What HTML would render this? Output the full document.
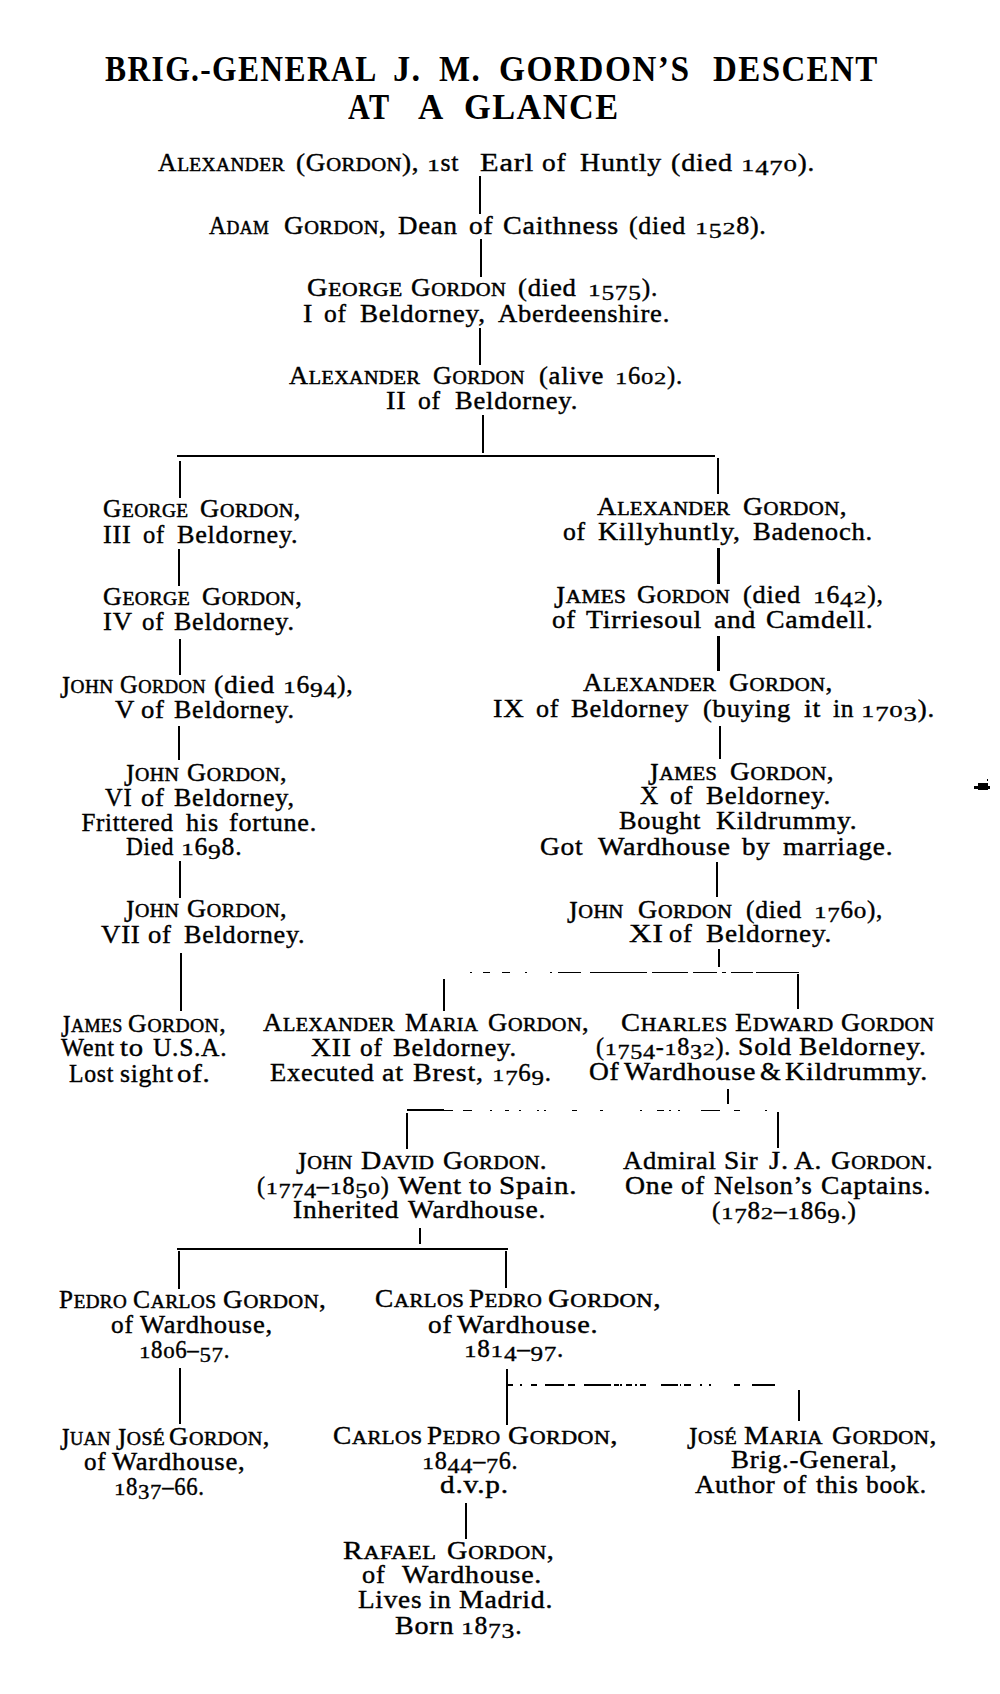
<!DOCTYPE html><html><head><meta charset="utf-8"><style>

html,body{margin:0;padding:0;background:#fff;}
body{width:1000px;height:1694px;position:relative;overflow:hidden;font-family:"Liberation Serif",serif;color:#000;}
.t{position:absolute;white-space:nowrap;transform-origin:0 0;line-height:1;}
.b{font-size:25px;letter-spacing:0.7px;word-spacing:4px;-webkit-text-stroke:0.4px #000;}
.tt{font-size:35px;font-weight:bold;letter-spacing:1.5px;word-spacing:2px;}
.s{font-size:76%;letter-spacing:0.4px;-webkit-text-stroke:0.5px #000;}
.j{display:inline-block;transform:scaleY(1.24);transform-origin:50% 0;}
.ox{display:inline-block;transform:scale(1,0.64);transform-origin:50% 84%;}
.od{display:inline-block;transform:translateY(0.17em) scale(1,0.84);transform-origin:50% 84%;}
.r{position:absolute;background:#000;}

</style></head><body>
<div class="t tt" style="left:105.10px;top:51.69px;transform:scaleX(0.9010)">BRIG.-GENERAL</div>
<div class="t tt" style="left:392.54px;top:51.69px;transform:scaleX(0.9792)">J.</div>
<div class="t tt" style="left:438.56px;top:51.69px;transform:scaleX(0.9390)">M.</div>
<div class="t tt" style="left:499.09px;top:51.69px;transform:scaleX(0.9541)">GORDON’S</div>
<div class="t tt" style="left:713.06px;top:51.69px;transform:scaleX(0.9422)">DESCENT</div>
<div class="t tt" style="left:348.40px;top:89.69px;transform:scaleX(0.8638)">AT</div>
<div class="t tt" style="left:418.00px;top:89.69px;transform:scaleX(1.0000)">A</div>
<div class="t tt" style="left:464.04px;top:89.69px;transform:scaleX(0.9805)">GLANCE</div>
<div class="t b" style="left:157.70px;top:150.06px;transform:scaleX(1.0194)">A<span class="s">LEXANDER</span></div>
<div class="t b" style="left:296.31px;top:150.06px;transform:scaleX(1.0882)">(G<span class="s">ORDON</span>),</div>
<div class="t b" style="left:427.09px;top:150.06px;transform:scaleX(1.0312)"><span class="ox">1</span>st</div>
<div class="t b" style="left:480.05px;top:150.06px;transform:scaleX(1.2157)">Earl</div>
<div class="t b" style="left:541.50px;top:150.06px;transform:scaleX(1.0952)">of</div>
<div class="t b" style="left:580.09px;top:150.06px;transform:scaleX(1.1139)">Huntly</div>
<div class="t b" style="left:671.27px;top:150.06px;transform:scaleX(1.1283)">(died</div>
<div class="t b" style="left:741.05px;top:150.06px;transform:scaleX(1.0738)"><span class="ox">1</span><span class="od">4</span><span class="od">7</span><span class="ox">0</span>).</div>
<div class="t b" style="left:209.20px;top:213.06px;transform:scaleX(0.9375)">A<span class="s">DAM</span></div>
<div class="t b" style="left:283.62px;top:213.06px;transform:scaleX(1.0750)">G<span class="s">ORDON</span>,</div>
<div class="t b" style="left:398.02px;top:213.06px;transform:scaleX(1.0759)">Dean</div>
<div class="t b" style="left:469.40px;top:213.06px;transform:scaleX(1.0952)">of</div>
<div class="t b" style="left:503.48px;top:213.06px;transform:scaleX(1.1208)">Caithness</div>
<div class="t b" style="left:628.66px;top:213.06px;transform:scaleX(1.0377)">(died</div>
<div class="t b" style="left:695.12px;top:213.06px;transform:scaleX(1.0400)"><span class="ox">1</span><span class="od">5</span><span class="ox">2</span>8).</div>
<div class="t b" style="left:307.26px;top:275.06px;transform:scaleX(1.1390)">G<span class="s">EORGE</span></div>
<div class="t b" style="left:411.22px;top:275.06px;transform:scaleX(1.0793)">G<span class="s">ORDON</span></div>
<div class="t b" style="left:517.83px;top:275.06px;transform:scaleX(1.0679)">(died</div>
<div class="t b" style="left:588.27px;top:275.06px;transform:scaleX(1.0169)"><span class="ox">1</span><span class="od">5</span><span class="od">7</span><span class="od">5</span>).</div>
<div class="t b" style="left:302.67px;top:301.06px;transform:scaleX(1.1278)">I</div>
<div class="t b" style="left:323.77px;top:301.06px;transform:scaleX(1.0204)">of</div>
<div class="t b" style="left:359.91px;top:301.06px;transform:scaleX(1.0858)">Beldorney,</div>
<div class="t b" style="left:497.90px;top:301.06px;transform:scaleX(1.0631)">Aberdeenshire.</div>
<div class="t b" style="left:288.80px;top:363.06px;transform:scaleX(1.0556)">A<span class="s">LEXANDER</span></div>
<div class="t b" style="left:433.36px;top:363.06px;transform:scaleX(1.0414)">G<span class="s">ORDON</span></div>
<div class="t b" style="left:538.83px;top:363.06px;transform:scaleX(1.0661)">(alive</div>
<div class="t b" style="left:614.53px;top:363.06px;transform:scaleX(0.9862)"><span class="ox">1</span>6<span class="ox">0</span><span class="ox">2</span>).</div>
<div class="t b" style="left:386.29px;top:388.06px;transform:scaleX(1.1347)">II</div>
<div class="t b" style="left:418.39px;top:388.06px;transform:scaleX(1.0266)">of</div>
<div class="t b" style="left:455.44px;top:388.06px;transform:scaleX(1.0628)">Beldorney.</div>
<div class="t b" style="left:102.78px;top:496.06px;transform:scaleX(1.0159)">G<span class="s">EORGE</span></div>
<div class="t b" style="left:199.74px;top:496.06px;transform:scaleX(1.0620)">G<span class="s">ORDON</span>,</div>
<div class="t b" style="left:103.35px;top:522.06px;transform:scaleX(1.0520)">III</div>
<div class="t b" style="left:143.37px;top:522.06px;transform:scaleX(0.9805)">of</div>
<div class="t b" style="left:177.45px;top:522.06px;transform:scaleX(1.0487)">Beldorney.</div>
<div class="t b" style="left:102.76px;top:583.56px;transform:scaleX(1.0354)">G<span class="s">EORGE</span></div>
<div class="t b" style="left:201.84px;top:583.56px;transform:scaleX(1.0554)">G<span class="s">ORDON</span>,</div>
<div class="t b" style="left:103.33px;top:609.06px;transform:scaleX(1.0692)">IV</div>
<div class="t b" style="left:142.40px;top:609.06px;transform:scaleX(0.9952)">of</div>
<div class="t b" style="left:174.46px;top:609.06px;transform:scaleX(1.0425)">Beldorney.</div>
<div class="t b" style="left:59.60px;top:672.06px;transform:scaleX(1.0154)"><span class="j">J</span><span class="s">OHN</span></div>
<div class="t b" style="left:119.63px;top:672.06px;transform:scaleX(0.9747)">G<span class="s">ORDON</span></div>
<div class="t b" style="left:213.99px;top:672.06px;transform:scaleX(1.1113)">(died</div>
<div class="t b" style="left:283.15px;top:672.06px;transform:scaleX(1.0246)"><span class="ox">1</span>6<span class="od">9</span><span class="od">4</span>),</div>
<div class="t b" style="left:114.50px;top:697.06px;transform:scaleX(1.0722)">V</div>
<div class="t b" style="left:140.83px;top:697.06px;transform:scaleX(1.0667)">of</div>
<div class="t b" style="left:174.46px;top:697.06px;transform:scaleX(1.0425)">Beldorney.</div>
<div class="t b" style="left:123.60px;top:760.06px;transform:scaleX(1.0462)"><span class="j">J</span><span class="s">OHN</span></div>
<div class="t b" style="left:186.65px;top:760.06px;transform:scaleX(1.0543)">G<span class="s">ORDON</span>,</div>
<div class="t b" style="left:105.22px;top:785.06px;transform:scaleX(0.9833)">VI</div>
<div class="t b" style="left:140.83px;top:785.06px;transform:scaleX(1.0667)">of</div>
<div class="t b" style="left:174.46px;top:785.06px;transform:scaleX(1.0425)">Beldorney,</div>
<div class="t b" style="left:81.40px;top:809.56px;transform:scaleX(1.0000)">Frittered</div>
<div class="t b" style="left:186.10px;top:809.56px;transform:scaleX(1.0500)">his</div>
<div class="t b" style="left:229.35px;top:809.56px;transform:scaleX(1.0469)">fortune.</div>
<div class="t b" style="left:125.77px;top:834.06px;transform:scaleX(0.9340)">Died</div>
<div class="t b" style="left:181.05px;top:834.06px;transform:scaleX(1.0250)"><span class="ox">1</span>6<span class="od">9</span>8.</div>
<div class="t b" style="left:123.60px;top:895.56px;transform:scaleX(1.0462)"><span class="j">J</span><span class="s">OHN</span></div>
<div class="t b" style="left:186.65px;top:895.56px;transform:scaleX(1.0543)">G<span class="s">ORDON</span>,</div>
<div class="t b" style="left:100.70px;top:921.56px;transform:scaleX(1.0743)">VII</div>
<div class="t b" style="left:148.43px;top:921.56px;transform:scaleX(1.0667)">of</div>
<div class="t b" style="left:183.55px;top:921.56px;transform:scaleX(1.0478)">Beldorney.</div>
<div class="t b" style="left:61.00px;top:1011.06px;transform:scaleX(0.9524)"><span class="j">J</span><span class="s">AMES</span></div>
<div class="t b" style="left:127.97px;top:1011.06px;transform:scaleX(1.0326)">G<span class="s">ORDON</span>,</div>
<div class="t b" style="left:61.40px;top:1035.06px;transform:scaleX(0.9763)">Went</div>
<div class="t b" style="left:119.62px;top:1035.06px;transform:scaleX(1.1467)">to</div>
<div class="t b" style="left:152.60px;top:1035.06px;transform:scaleX(1.0183)">U.S.A.</div>
<div class="t b" style="left:69.05px;top:1061.06px;transform:scaleX(0.9511)">Lost</div>
<div class="t b" style="left:120.27px;top:1061.06px;transform:scaleX(1.0260)">sight</div>
<div class="t b" style="left:177.37px;top:1061.06px;transform:scaleX(1.1524)">of.</div>
<div class="t b" style="left:596.70px;top:494.06px;transform:scaleX(1.0726)">A<span class="s">LEXANDER</span></div>
<div class="t b" style="left:742.80px;top:494.06px;transform:scaleX(1.0957)">G<span class="s">ORDON</span>,</div>
<div class="t b" style="left:563.37px;top:519.06px;transform:scaleX(1.0286)">of</div>
<div class="t b" style="left:597.79px;top:519.06px;transform:scaleX(1.1128)">Killyhuntly,</div>
<div class="t b" style="left:753.03px;top:519.06px;transform:scaleX(1.0661)">Badenoch.</div>
<div class="t b" style="left:554.00px;top:581.56px;transform:scaleX(1.1159)"><span class="j">J</span><span class="s">AMES</span></div>
<div class="t b" style="left:636.65px;top:581.56px;transform:scaleX(1.0540)">G<span class="s">ORDON</span></div>
<div class="t b" style="left:742.65px;top:581.56px;transform:scaleX(1.0547)">(died</div>
<div class="t b" style="left:812.75px;top:581.56px;transform:scaleX(1.0262)"><span class="ox">1</span>6<span class="od">4</span><span class="ox">2</span>),</div>
<div class="t b" style="left:552.02px;top:607.36px;transform:scaleX(1.0762)">of</div>
<div class="t b" style="left:585.50px;top:607.36px;transform:scaleX(1.1087)">Tirriesoul</div>
<div class="t b" style="left:713.80px;top:607.36px;transform:scaleX(1.1028)">and</div>
<div class="t b" style="left:765.99px;top:607.36px;transform:scaleX(1.1140)">Camdell.</div>
<div class="t b" style="left:583.00px;top:669.56px;transform:scaleX(1.0726)">A<span class="s">LEXANDER</span></div>
<div class="t b" style="left:728.91px;top:669.56px;transform:scaleX(1.0924)">G<span class="s">ORDON</span>,</div>
<div class="t b" style="left:493.26px;top:695.56px;transform:scaleX(1.1385)">IX</div>
<div class="t b" style="left:536.26px;top:695.56px;transform:scaleX(1.0429)">of</div>
<div class="t b" style="left:571.43px;top:695.56px;transform:scaleX(1.0688)">Beldorney</div>
<div class="t b" style="left:702.54px;top:695.56px;transform:scaleX(1.0642)">(buying</div>
<div class="t b" style="left:803.64px;top:695.56px;transform:scaleX(1.1279)">it</div>
<div class="t b" style="left:833.10px;top:695.56px;transform:scaleX(1.0205)">in</div>
<div class="t b" style="left:861.05px;top:695.56px;transform:scaleX(1.0738)"><span class="ox">1</span><span class="od">7</span><span class="ox">0</span><span class="od">3</span>).</div>
<div class="t b" style="left:648.40px;top:759.06px;transform:scaleX(1.0698)"><span class="j">J</span><span class="s">AMES</span></div>
<div class="t b" style="left:729.80px;top:759.06px;transform:scaleX(1.0957)">G<span class="s">ORDON</span>,</div>
<div class="t b" style="left:640.25px;top:783.06px;transform:scaleX(1.0106)">X</div>
<div class="t b" style="left:669.87px;top:783.06px;transform:scaleX(1.0333)">of</div>
<div class="t b" style="left:705.82px;top:783.06px;transform:scaleX(1.0788)">Beldorney.</div>
<div class="t b" style="left:619.44px;top:808.06px;transform:scaleX(1.0553)">Bought</div>
<div class="t b" style="left:715.60px;top:808.06px;transform:scaleX(1.1024)">Kildrummy.</div>
<div class="t b" style="left:540.20px;top:833.56px;transform:scaleX(1.0974)">Got</div>
<div class="t b" style="left:598.40px;top:833.56px;transform:scaleX(1.1239)">Wardhouse</div>
<div class="t b" style="left:742.00px;top:833.56px;transform:scaleX(1.0769)">by</div>
<div class="t b" style="left:783.00px;top:833.56px;transform:scaleX(1.0869)">marriage.</div>
<div class="t b" style="left:567.20px;top:897.06px;transform:scaleX(1.0750)"><span class="j">J</span><span class="s">OHN</span></div>
<div class="t b" style="left:638.13px;top:897.06px;transform:scaleX(1.0667)">G<span class="s">ORDON</span></div>
<div class="t b" style="left:745.88px;top:897.06px;transform:scaleX(1.0208)">(died</div>
<div class="t b" style="left:814.19px;top:897.06px;transform:scaleX(1.0046)"><span class="ox">1</span><span class="od">7</span>6<span class="ox">0</span>),</div>
<div class="t b" style="left:628.88px;top:921.06px;transform:scaleX(1.2474)">XI</div>
<div class="t b" style="left:669.38px;top:921.06px;transform:scaleX(1.0581)">of</div>
<div class="t b" style="left:705.61px;top:921.06px;transform:scaleX(1.0894)">Beldorney.</div>
<div class="t b" style="left:263.10px;top:1010.06px;transform:scaleX(1.0605)">A<span class="s">LEXANDER</span></div>
<div class="t b" style="left:405.17px;top:1010.06px;transform:scaleX(1.0329)">M<span class="s">ARIA</span></div>
<div class="t b" style="left:488.14px;top:1010.06px;transform:scaleX(1.0630)">G<span class="s">ORDON</span>,</div>
<div class="t b" style="left:310.80px;top:1035.06px;transform:scaleX(1.1086)">XII</div>
<div class="t b" style="left:359.93px;top:1035.06px;transform:scaleX(1.0146)">of</div>
<div class="t b" style="left:392.53px;top:1035.06px;transform:scaleX(1.0699)">Beldorney.</div>
<div class="t b" style="left:270.14px;top:1060.06px;transform:scaleX(1.0588)">Executed</div>
<div class="t b" style="left:381.99px;top:1060.06px;transform:scaleX(1.1209)">at</div>
<div class="t b" style="left:412.88px;top:1060.06px;transform:scaleX(1.1200)">Brest,</div>
<div class="t b" style="left:491.70px;top:1060.06px;transform:scaleX(0.9982)"><span class="ox">1</span><span class="od">7</span>6<span class="od">9</span>.</div>
<div class="t b" style="left:620.76px;top:1010.06px;transform:scaleX(1.1385)">C<span class="s">HARLES</span></div>
<div class="t b" style="left:735.07px;top:1010.06px;transform:scaleX(1.1256)">E<span class="s">DWARD</span></div>
<div class="t b" style="left:840.84px;top:1010.06px;transform:scaleX(1.0586)">G<span class="s">ORDON</span></div>
<div class="t b" style="left:595.73px;top:1034.06px;transform:scaleX(0.9657)">(<span class="ox">1</span><span class="od">7</span><span class="od">5</span><span class="od">4</span>-<span class="ox">1</span>8<span class="od">3</span><span class="ox">2</span>).</div>
<div class="t b" style="left:737.78px;top:1034.06px;transform:scaleX(1.1087)">Sold</div>
<div class="t b" style="left:799.40px;top:1034.06px;transform:scaleX(1.1018)">Beldorney.</div>
<div class="t b" style="left:588.80px;top:1059.06px;transform:scaleX(1.0981)">Of</div>
<div class="t b" style="left:623.95px;top:1059.06px;transform:scaleX(1.1184)">Wardhouse</div>
<div class="t b" style="left:760.43px;top:1059.06px;transform:scaleX(1.0667)">&amp;</div>
<div class="t b" style="left:785.09px;top:1059.06px;transform:scaleX(1.1144)">Kildrummy.</div>
<div class="t b" style="left:295.90px;top:1148.06px;transform:scaleX(1.0750)"><span class="j">J</span><span class="s">OHN</span></div>
<div class="t b" style="left:361.38px;top:1148.06px;transform:scaleX(1.1234)">D<span class="s">AVID</span></div>
<div class="t b" style="left:443.10px;top:1148.06px;transform:scaleX(1.0967)">G<span class="s">ORDON</span>.</div>
<div class="t b" style="left:257.13px;top:1173.06px;transform:scaleX(0.9679)">(<span class="ox">1</span><span class="od">7</span><span class="od">7</span><span class="od">4</span>–<span class="ox">1</span>8<span class="od">5</span><span class="ox">0</span>)</div>
<div class="t b" style="left:397.60px;top:1173.06px;transform:scaleX(1.1648)">Went</div>
<div class="t b" style="left:468.56px;top:1173.06px;transform:scaleX(1.1244)">to</div>
<div class="t b" style="left:499.48px;top:1173.06px;transform:scaleX(1.1619)">Spain.</div>
<div class="t b" style="left:293.00px;top:1197.06px;transform:scaleX(1.1000)">Inherited</div>
<div class="t b" style="left:408.40px;top:1197.06px;transform:scaleX(1.1041)">Wardhouse.</div>
<div class="t b" style="left:622.70px;top:1148.06px;transform:scaleX(1.0609)">Admiral</div>
<div class="t b" style="left:723.81px;top:1148.06px;transform:scaleX(1.0966)">Sir</div>
<div class="t b" style="left:769.23px;top:1148.06px;transform:scaleX(1.1431)">J.</div>
<div class="t b" style="left:794.30px;top:1148.06px;transform:scaleX(1.0958)">A.</div>
<div class="t b" style="left:830.62px;top:1148.06px;transform:scaleX(1.0750)">G<span class="s">ORDON</span>.</div>
<div class="t b" style="left:624.89px;top:1173.06px;transform:scaleX(1.1119)">One</div>
<div class="t b" style="left:680.52px;top:1173.06px;transform:scaleX(1.0762)">of</div>
<div class="t b" style="left:713.84px;top:1173.06px;transform:scaleX(1.0593)">Nelson’s</div>
<div class="t b" style="left:820.90px;top:1173.06px;transform:scaleX(1.1021)">Captains.</div>
<div class="t b" style="left:712.00px;top:1197.56px;transform:scaleX(1.0043)">(<span class="ox">1</span><span class="od">7</span>8<span class="ox">2</span>–<span class="ox">1</span>86<span class="od">9</span>.)</div>
<div class="t b" style="left:59.20px;top:1287.06px;transform:scaleX(1.0030)">P<span class="s">EDRO</span></div>
<div class="t b" style="left:133.08px;top:1287.06px;transform:scaleX(1.0228)">C<span class="s">ARLOS</span></div>
<div class="t b" style="left:222.91px;top:1287.06px;transform:scaleX(1.0870)">G<span class="s">ORDON</span>,</div>
<div class="t b" style="left:111.39px;top:1312.06px;transform:scaleX(1.0143)">of</div>
<div class="t b" style="left:139.90px;top:1312.06px;transform:scaleX(1.0618)">Wardhouse,</div>
<div class="t b" style="left:139.17px;top:1337.06px;transform:scaleX(0.9158)"><span class="ox">1</span>8<span class="ox">0</span>6–<span class="od">5</span><span class="od">7</span>.</div>
<div class="t b" style="left:374.61px;top:1286.36px;transform:scaleX(1.0937)">C<span class="s">ARLOS</span></div>
<div class="t b" style="left:469.12px;top:1286.36px;transform:scaleX(1.0788)">P<span class="s">EDRO</span></div>
<div class="t b" style="left:548.31px;top:1286.36px;transform:scaleX(1.1902)">G<span class="s">ORDON</span>,</div>
<div class="t b" style="left:427.91px;top:1311.56px;transform:scaleX(1.0929)">of</div>
<div class="t b" style="left:457.45px;top:1311.56px;transform:scaleX(1.1305)">Wardhouse.</div>
<div class="t b" style="left:463.99px;top:1336.36px;transform:scaleX(1.0074)"><span class="ox">1</span>8<span class="ox">1</span><span class="od">4</span>–<span class="od">9</span><span class="od">7</span>.</div>
<div class="t b" style="left:59.80px;top:1424.06px;transform:scaleX(0.9615)"><span class="j">J</span><span class="s">UAN</span></div>
<div class="t b" style="left:115.80px;top:1424.06px;transform:scaleX(1.0340)"><span class="j">J</span><span class="s">OSÉ</span></div>
<div class="t b" style="left:169.34px;top:1424.06px;transform:scaleX(1.0609)">G<span class="s">ORDON</span>,</div>
<div class="t b" style="left:83.78px;top:1449.06px;transform:scaleX(1.0015)">of</div>
<div class="t b" style="left:111.60px;top:1449.06px;transform:scaleX(1.0667)">Wardhouse,</div>
<div class="t b" style="left:114.18px;top:1474.06px;transform:scaleX(0.9116)"><span class="ox">1</span>8<span class="od">3</span><span class="od">7</span>–66.</div>
<div class="t b" style="left:332.91px;top:1423.26px;transform:scaleX(1.0949)">C<span class="s">ARLOS</span></div>
<div class="t b" style="left:427.42px;top:1423.26px;transform:scaleX(1.0833)">P<span class="s">EDRO</span></div>
<div class="t b" style="left:508.34px;top:1423.26px;transform:scaleX(1.1576)">G<span class="s">ORDON</span>,</div>
<div class="t b" style="left:422.06px;top:1448.26px;transform:scaleX(0.9684)"><span class="ox">1</span>8<span class="od">4</span><span class="od">4</span>–<span class="od">7</span>6.</div>
<div class="t b" style="left:439.83px;top:1472.26px;transform:scaleX(1.1714)">d.v.p.</div>
<div class="t b" style="left:687.10px;top:1422.56px;transform:scaleX(1.0553)"><span class="j">J</span><span class="s">OSÉ</span></div>
<div class="t b" style="left:744.09px;top:1422.56px;transform:scaleX(1.1129)">M<span class="s">ARIA</span></div>
<div class="t b" style="left:831.90px;top:1422.56px;transform:scaleX(1.1033)">G<span class="s">ORDON</span>,</div>
<div class="t b" style="left:730.92px;top:1446.56px;transform:scaleX(1.0795)">Brig.-General,</div>
<div class="t b" style="left:695.20px;top:1472.06px;transform:scaleX(1.0730)">Author</div>
<div class="t b" style="left:783.02px;top:1472.06px;transform:scaleX(1.0810)">of</div>
<div class="t b" style="left:815.60px;top:1472.06px;transform:scaleX(1.0947)">this</div>
<div class="t b" style="left:866.00px;top:1472.06px;transform:scaleX(1.0172)">book.</div>
<div class="t b" style="left:343.02px;top:1538.06px;transform:scaleX(1.1779)">R<span class="s">AFAEL</span></div>
<div class="t b" style="left:446.57px;top:1538.06px;transform:scaleX(1.1283)">G<span class="s">ORDON</span>,</div>
<div class="t b" style="left:362.45px;top:1562.06px;transform:scaleX(1.0523)">of</div>
<div class="t b" style="left:401.70px;top:1562.06px;transform:scaleX(1.1203)">Wardhouse.</div>
<div class="t b" style="left:358.01px;top:1587.06px;transform:scaleX(1.0877)">Lives</div>
<div class="t b" style="left:429.30px;top:1587.06px;transform:scaleX(1.0850)">in</div>
<div class="t b" style="left:459.19px;top:1587.06px;transform:scaleX(1.1122)">Madrid.</div>
<div class="t b" style="left:394.88px;top:1613.06px;transform:scaleX(1.1235)">Born</div>
<div class="t b" style="left:460.55px;top:1613.06px;transform:scaleX(1.0250)"><span class="ox">1</span>8<span class="od">7</span><span class="od">3</span>.</div>
<div class="r" style="left:479.4px;top:176.0px;width:2.1px;height:38.0px"></div>
<div class="r" style="left:479.7px;top:239.0px;width:2.6px;height:38.0px"></div>
<div class="r" style="left:479.4px;top:328.0px;width:2.1px;height:36.5px"></div>
<div class="r" style="left:482.4px;top:415.0px;width:2.1px;height:37.5px"></div>
<div class="r" style="left:177.0px;top:455.2px;width:538.0px;height:2.0px"></div>
<div class="r" style="left:178.7px;top:460.5px;width:2.6px;height:37.0px"></div>
<div class="r" style="left:716.5px;top:458.0px;width:2.1px;height:36.0px"></div>
<div class="r" style="left:178.4px;top:548.5px;width:2.1px;height:37.5px"></div>
<div class="r" style="left:178.9px;top:638.5px;width:2.1px;height:36.0px"></div>
<div class="r" style="left:178.4px;top:725.5px;width:2.1px;height:34.5px"></div>
<div class="r" style="left:178.7px;top:861.0px;width:2.6px;height:37.0px"></div>
<div class="r" style="left:179.7px;top:953.0px;width:2.6px;height:58.0px"></div>
<div class="r" style="left:717.2px;top:548.0px;width:2.6px;height:36.0px"></div>
<div class="r" style="left:717.2px;top:636.0px;width:2.6px;height:35.0px"></div>
<div class="r" style="left:718.5px;top:725.8px;width:2.1px;height:32.9px"></div>
<div class="r" style="left:716.0px;top:862.0px;width:2.1px;height:35.0px"></div>
<div class="r" style="left:718.0px;top:949.0px;width:2.0px;height:18.0px"></div>
<div class="r" style="left:470.0px;top:971.6px;width:1.5px;height:1.2px"></div>
<div class="r" style="left:482.5px;top:971.6px;width:7.2px;height:1.2px"></div>
<div class="r" style="left:502.0px;top:971.6px;width:8.0px;height:1.2px"></div>
<div class="r" style="left:525.0px;top:971.6px;width:1.7px;height:1.2px"></div>
<div class="r" style="left:550.0px;top:971.6px;width:2.0px;height:1.2px"></div>
<div class="r" style="left:558.0px;top:971.6px;width:23.0px;height:1.2px"></div>
<div class="r" style="left:590.0px;top:971.6px;width:57.0px;height:1.2px"></div>
<div class="r" style="left:651.6px;top:971.6px;width:36.1px;height:1.2px"></div>
<div class="r" style="left:693.0px;top:971.6px;width:23.5px;height:1.2px"></div>
<div class="r" style="left:722.0px;top:971.6px;width:3.5px;height:1.2px"></div>
<div class="r" style="left:731.0px;top:971.6px;width:21.5px;height:1.2px"></div>
<div class="r" style="left:756.0px;top:971.6px;width:43.0px;height:1.2px"></div>
<div class="r" style="left:443.4px;top:979.0px;width:2.1px;height:32.0px"></div>
<div class="r" style="left:796.5px;top:974.0px;width:2.1px;height:35.0px"></div>
<div class="r" style="left:727.0px;top:1089.0px;width:2.0px;height:15.0px"></div>
<div class="r" style="left:407.0px;top:1109.0px;width:37.0px;height:2.0px"></div>
<div class="r" style="left:444.0px;top:1109.5px;width:8.6px;height:1.1px"></div>
<div class="r" style="left:463.0px;top:1109.5px;width:9.0px;height:1.1px"></div>
<div class="r" style="left:489.5px;top:1109.5px;width:2.5px;height:1.1px"></div>
<div class="r" style="left:505.0px;top:1109.5px;width:4.0px;height:1.1px"></div>
<div class="r" style="left:519.0px;top:1109.5px;width:1.5px;height:1.1px"></div>
<div class="r" style="left:537.0px;top:1109.5px;width:1.5px;height:1.1px"></div>
<div class="r" style="left:544.0px;top:1109.5px;width:1.5px;height:1.1px"></div>
<div class="r" style="left:572.0px;top:1109.5px;width:5.0px;height:1.1px"></div>
<div class="r" style="left:600.0px;top:1109.5px;width:3.0px;height:1.1px"></div>
<div class="r" style="left:639.7px;top:1109.5px;width:2.7px;height:1.1px"></div>
<div class="r" style="left:656.8px;top:1109.5px;width:7.2px;height:1.1px"></div>
<div class="r" style="left:669.4px;top:1109.5px;width:1.6px;height:1.1px"></div>
<div class="r" style="left:677.5px;top:1109.5px;width:2.5px;height:1.1px"></div>
<div class="r" style="left:701.0px;top:1109.5px;width:19.0px;height:1.1px"></div>
<div class="r" style="left:734.0px;top:1109.5px;width:5.6px;height:1.1px"></div>
<div class="r" style="left:765.0px;top:1109.5px;width:1.6px;height:1.1px"></div>
<div class="r" style="left:405.7px;top:1113.0px;width:2.6px;height:36.0px"></div>
<div class="r" style="left:776.7px;top:1112.0px;width:2.6px;height:36.0px"></div>
<div class="r" style="left:419.4px;top:1228.0px;width:2.0px;height:15.5px"></div>
<div class="r" style="left:177.0px;top:1247.5px;width:331.0px;height:2.0px"></div>
<div class="r" style="left:178.4px;top:1251.0px;width:2.1px;height:38.0px"></div>
<div class="r" style="left:505.4px;top:1251.0px;width:2.1px;height:37.0px"></div>
<div class="r" style="left:179.4px;top:1368.0px;width:2.1px;height:56.0px"></div>
<div class="r" style="left:505.9px;top:1369.0px;width:2.1px;height:56.0px"></div>
<div class="r" style="left:506.0px;top:1384.4px;width:6.7px;height:1.2px"></div>
<div class="r" style="left:520.0px;top:1384.4px;width:1.5px;height:1.2px"></div>
<div class="r" style="left:530.7px;top:1384.4px;width:6.0px;height:1.2px"></div>
<div class="r" style="left:545.0px;top:1384.4px;width:18.7px;height:1.2px"></div>
<div class="r" style="left:568.0px;top:1384.4px;width:7.0px;height:1.2px"></div>
<div class="r" style="left:584.0px;top:1384.4px;width:27.0px;height:1.2px"></div>
<div class="r" style="left:614.0px;top:1384.4px;width:4.5px;height:1.2px"></div>
<div class="r" style="left:620.0px;top:1384.4px;width:1.5px;height:1.2px"></div>
<div class="r" style="left:626.0px;top:1384.4px;width:6.0px;height:1.2px"></div>
<div class="r" style="left:635.0px;top:1384.4px;width:1.5px;height:1.2px"></div>
<div class="r" style="left:639.5px;top:1384.4px;width:6.5px;height:1.2px"></div>
<div class="r" style="left:661.0px;top:1384.4px;width:17.0px;height:1.2px"></div>
<div class="r" style="left:679.5px;top:1384.4px;width:1.5px;height:1.2px"></div>
<div class="r" style="left:684.0px;top:1384.4px;width:7.0px;height:1.2px"></div>
<div class="r" style="left:700.0px;top:1384.4px;width:1.5px;height:1.2px"></div>
<div class="r" style="left:709.0px;top:1384.4px;width:1.5px;height:1.2px"></div>
<div class="r" style="left:733.7px;top:1384.4px;width:6.0px;height:1.2px"></div>
<div class="r" style="left:751.7px;top:1384.4px;width:23.3px;height:1.2px"></div>
<div class="r" style="left:797.6px;top:1389.5px;width:2.1px;height:31.5px"></div>
<div class="r" style="left:464.6px;top:1502.5px;width:2.8px;height:36.2px"></div>
<div class="r" style="left:974.0px;top:785.5px;width:16.0px;height:3.0px"></div>
<div class="r" style="left:978.0px;top:783.0px;width:10.0px;height:6.5px"></div>
<div class="r" style="left:986.5px;top:778.5px;width:1.5px;height:2.5px"></div>
</body></html>
